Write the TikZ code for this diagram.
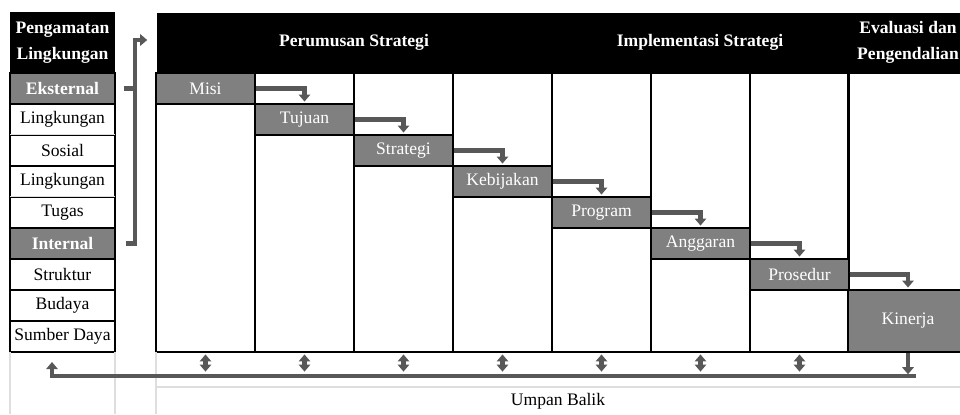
\documentclass[tikz,border=0pt]{standalone}
\usepackage{fontspec}
\setmainfont{Liberation Serif}
\usetikzlibrary{arrows.meta,calc}

\definecolor{stepgray}{RGB}{128,128,128}
\definecolor{arrowgray}{RGB}{88,88,88}
\definecolor{faintgray}{RGB}{222,222,222}
\newcommand{\diafont}{\fontsize{10}{15}\selectfont}

\begin{document}
\begin{tikzpicture}[
    x=0.02cm, y=-0.02cm,
    font=\diafont,
    line width=0.8pt,
    cell/.style={rectangle, draw, inner sep=0pt, minimum width=2.1cm, minimum height=0.62cm},
    groupcell/.style={cell, fill=stepgray, text=white, font=\diafont\bfseries},
    headbox/.style={rectangle, fill=black, text=white, inner sep=0pt, align=center, font=\diafont\bfseries},
    headtext/.style={text=white, align=center, font=\diafont\bfseries},
    colbox/.style={rectangle, draw, inner sep=0pt, minimum width=1.98cm, minimum height=5.58cm},
    stepbox/.style={rectangle, draw, fill=stepgray, text=white, inner sep=0pt, minimum width=1.98cm, minimum height=0.62cm},
    flow/.style={draw=arrowgray, line width=2.3pt, -{Triangle[width=6.5pt,length=4pt]}},
    flowline/.style={draw=arrowgray, line width=2.3pt},
    dblflow/.style={draw=arrowgray, line width=2.3pt, {Triangle[width=6.5pt,length=4pt]}-{Triangle[width=6.5pt,length=4pt]}},
    faint/.style={draw=faintgray, line width=0.8pt}
]
\clip (0,0) rectangle (960,414);

% Pengamatan lingkungan
\node[headbox, minimum width=2.1cm, minimum height=1.22cm] (pengamatan) at (62.5,42.5) {Pengamatan\\Lingkungan};
\node[groupcell] (eksternal) at (62.5,88.5) {Eksternal};
\node[cell] (lingsosial) at (62.5,119.5) {Lingkungan};
\node[cell] (sosial) at (62.5,150.5) {Sosial};
\node[cell] (lingtugas) at (62.5,181.5) {Lingkungan};
\node[cell] (tugas) at (62.5,212.5) {Tugas};
\node[groupcell] (internal) at (62.5,243.5) {Internal};
\node[cell] (struktur) at (62.5,274.5) {Struktur};
\node[cell] (budaya) at (62.5,305.5) {Budaya};
\node[cell] (sumberdaya) at (62.5,336.5) {Sumber Daya};
\draw[faint] ([xshift=0.6pt]sosial.north west) -- ([xshift=-0.6pt]sosial.north east);
\draw[faint] ([xshift=0.6pt]tugas.north west) -- ([xshift=-0.6pt]tugas.north east);

% Kepala tabel
\node[headbox, minimum width=16.24cm, minimum height=1.22cm, anchor=north west] (hdrmain) at (156,12) {};
\node[headtext] (perumusan) at (354,42.5) {Perumusan Strategi};
\node[headtext] (implementasi) at (700,42.5) {Implementasi Strategi};
\node[headtext] (evaluasi) at (908,42.5) {Evaluasi dan\\Pengendalian};

% Kolom dan tahapan
\foreach \i in {0,...,6}
    \node[colbox] (col\i) at (205.5+99*\i,212.5) {};
\node[colbox, minimum width=2.4cm] (col7) at (908,212.5) {};

\foreach \i/\name/\lbl in {0/misi/Misi, 1/tujuan/Tujuan, 2/strategi/Strategi, 3/kebijakan/Kebijakan,
    4/program/Program, 5/anggaran/Anggaran, 6/prosedur/Prosedur}
    \node[stepbox] (\name) at (205.5+99*\i,88.5+31*\i) {\lbl};
\node[stepbox, minimum width=2.4cm, minimum height=1.24cm] (kinerja) at (908,321) {Kinerja};

\foreach \a/\b in {misi/tujuan, tujuan/strategi, strategi/kebijakan, kebijakan/program,
    program/anggaran, anggaran/prosedur, prosedur/kinerja}
    \draw[flow, shorten >=1pt] (\a.east) -| (\b.north);

% Pengamatan ke perumusan
\coordinate (brtop) at (135,40);
\draw[flowline] ($(eksternal.east)+(8,0)$) -- (eksternal.east -| brtop);
\draw[flow, shorten >=5pt] ($(internal.east)+(10,0)$) -| (brtop) -- (brtop -| hdrmain.west);

% Umpan balik
\coordinate (fbright) at (916,376);
\coordinate (fbleft) at (52,362);
\draw[faint] (10,352) -- (10,414);
\draw[faint] (115,352) -- (115,414);
\draw[faint] (156,352) -- (156,414);
\draw[faint] (156,387) -- (960,387);
\draw[flow, shorten >=1pt] (kinerja.south) -- (kinerja.south |- fbright);
\draw[flow] (fbright) -| (fbleft);
\foreach \i in {0,...,6}
    \draw[dblflow, shorten <=1pt, shorten >=2.5pt] (col\i.south) -- (col\i.south |- fbright);
\node (umpan) at (558,401) {Umpan Balik};
\end{tikzpicture}
\end{document}
